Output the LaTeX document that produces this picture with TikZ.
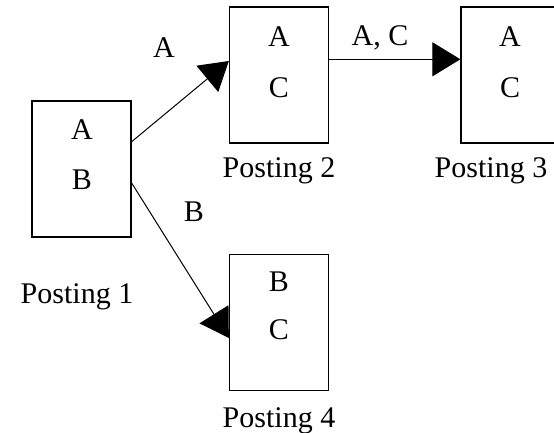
\documentclass[tikz,border=0pt]{standalone}
\usepackage{fontspec}
\setmainfont{Liberation Serif}
\usetikzlibrary{arrows.meta}
\begin{document}
\begin{tikzpicture}[x=1pt,y=1pt,
  post/.style={draw=black, line width=1.3pt, minimum width=99pt, minimum height=136pt, inner sep=0pt},
  txt/.style={font=\fontsize{30}{34}\selectfont, inner sep=0pt},
  conn/.style={draw=black, line width=1pt, -{Triangle[length=28pt,width=34pt]}}]
\useasboundingbox (0,0) rectangle (554,433);
\clip (0,0) rectangle (554,433);
\fill[white] (0,0) rectangle (554,433);
% boxes (y measured from top: tikz y = 433 - y)
\node[post] (p1) at (81.5,264) {};
\node[post] (p2) at (279,358) {};
\node[post] (p3) at (510.5,358) {};
\node[post] (p4) at (279,110.5) {};
% box contents
\node[txt] (p1a) at (82,303) {A};
\node[txt] (p1b) at (82,253) {B};
\node[txt] (p2a) at (279,396) {A};
\node[txt] (p2c) at (279,345) {C};
\node[txt] (p3a) at (510,396) {A};
\node[txt] (p3c) at (510,345) {C};
\node[txt] (p4b) at (279,151) {B};
\node[txt] (p4c) at (279,103) {C};
% captions
\node[txt, anchor=base] (l1) at (77,129) {Posting 1};
\node[txt, anchor=base] (l2) at (279,255) {Posting 2};
\node[txt, anchor=base] (l3) at (491,255) {Posting 3};
\node[txt, anchor=base] (l4) at (279,5) {Posting 4};
% connectors
\draw[conn] ([yshift=27.3pt]p1.east) -- ([yshift=14pt]p2.west);
\draw[conn] ([yshift=-14pt]p1.east) -- ([yshift=-15.5pt]p4.west);
\draw[conn] ([yshift=15.7pt]p2.east) -- ([yshift=15.7pt]p3.west);
% edge labels
\node[txt] (ea) at (164,385) {A};
\node[txt] (eac) at (380,395) {A, C};
\node[txt] (eb) at (194,221) {B};
\end{tikzpicture}
\end{document}
